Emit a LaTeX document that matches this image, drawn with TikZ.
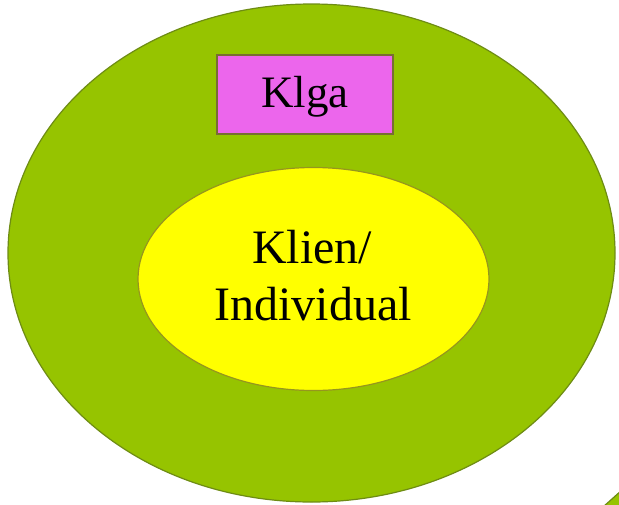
\documentclass[tikz,border=0pt]{standalone}
\usepackage{fontspec}
\setmainfont{Liberation Serif}
\usetikzlibrary{shapes.geometric}
\definecolor{outerg}{RGB}{150,196,0}
\definecolor{outerb}{RGB}{110,140,20}
\definecolor{innery}{RGB}{255,255,0}
\definecolor{innerb}{RGB}{150,150,30}
\definecolor{pinkf}{RGB}{236,102,236}
\definecolor{pinkb}{RGB}{120,110,50}
\tikzset{
  shapebox/.style={inner sep=0pt, outer sep=0pt, line width=1.2pt},
  bigtext/.style={font=\fontsize{48}{57}\selectfont, inner sep=0pt, anchor=base, align=center},
  boxtext/.style={font=\fontsize{45}{54}\selectfont, inner sep=0pt, anchor=base}
}
\begin{document}
\begin{tikzpicture}[x=1pt,y=-1pt]
\useasboundingbox (0,0) rectangle (619,504);
\node (outer) [shapebox, ellipse, fill=outerg, draw=outerb, minimum width=607pt, minimum height=498pt] at (311.5,253) {};
\node (inner) [shapebox, ellipse, fill=innery, draw=innerb, minimum width=351pt, minimum height=223pt] at (313.5,279) {};
\node (box) [shapebox, rectangle, fill=pinkf, draw=pinkb, minimum width=176pt, minimum height=79pt] at (305,94.5) {};
\node (klga) [boxtext] at (305,107) {Klga};
\node (klien) [bigtext] at (312,263) {Klien/};
\node (indiv) [bigtext] at (313,320) {Individual};
\fill[outerg, draw=outerb, line width=1.2pt] (603,507) -- (622,490) -- (630,512) -- cycle;
\end{tikzpicture}
\end{document}
